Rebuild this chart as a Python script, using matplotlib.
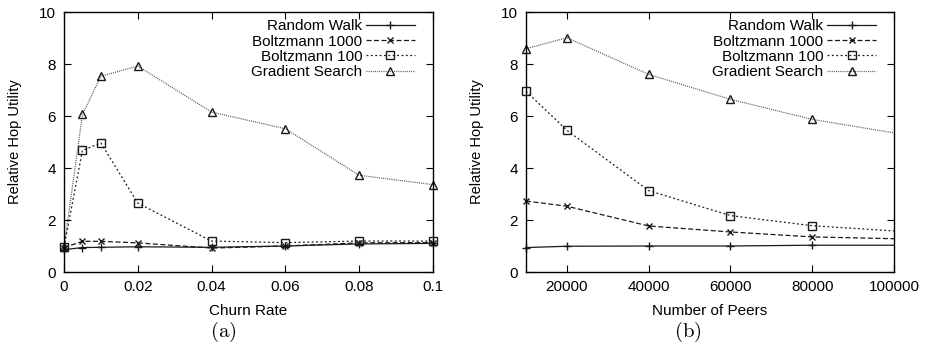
import matplotlib
matplotlib.use("Agg")
import matplotlib.pyplot as plt
from matplotlib.ticker import FormatStrFormatter, MultipleLocator

plt.rcParams['font.family'] = ['Liberation Sans', 'DejaVu Sans']

labels = ["Random Walk", "Boltzmann 1000", "Boltzmann 100", "Gradient Search"]

churn = [0, 0.005, 0.01, 0.02, 0.04, 0.06, 0.08, 0.1]
a_random = [0.86, 0.94, 0.95, 0.97, 0.95, 1.00, 1.08, 1.10]
a_boltz1000 = [0.94, 1.18, 1.18, 1.12, 0.92, 1.00, 1.12, 1.13]
a_boltz100 = [0.96, 4.68, 4.96, 2.65, 1.19, 1.13, 1.19, 1.19]
a_gradient = [0.95, 6.06, 7.53, 7.92, 6.15, 5.51, 3.72, 3.36]

peers = [10000, 20000, 40000, 60000, 80000, 100000]
b_random = [0.94, 0.99, 1.00, 1.00, 1.03, 1.03]
b_boltz1000 = [2.73, 2.53, 1.77, 1.54, 1.35, 1.28]
b_boltz100 = [6.95, 5.45, 3.13, 2.17, 1.78, 1.58]
b_gradient = [8.59, 9.01, 7.60, 6.64, 5.87, 5.35]

styles = [
    dict(color='#1a1a1a', linestyle='-', marker='+', markersize=6, lw=0.9),
    dict(color='#1a1a1a', linestyle=(0, (4, 2)), marker='x', markersize=5, lw=0.9),
    dict(color='#1a1a1a', linestyle=(0, (1.5, 2)), marker='s', markersize=5.5,
         markerfacecolor='none', lw=0.9),
    dict(color='#555555', linestyle=(0, (0.8, 0.9)), marker='^', markersize=5.5,
         markerfacecolor='none', markeredgecolor='#1a1a1a', lw=0.9),
]

fig = plt.figure(figsize=(9.29, 3.46), dpi=100)
axa = fig.add_axes([64/929, 74/346, 369/929, 260/346])
axb = fig.add_axes([526/929, 74/346, 368/929, 260/346])

def setup(ax):
    ax.set_ylim(0, 10)
    ax.yaxis.set_major_locator(MultipleLocator(2))
    ax.tick_params(direction='in', length=5, width=0.8, top=True, right=True,
                   labelsize=11, pad=6)
    for s in ax.spines.values():
        s.set_linewidth(1.0)
    ax.set_ylabel("Relative Hop Utility", fontsize=10.5, labelpad=12)

for ys, lab, st in zip([a_random, a_boltz1000, a_boltz100, a_gradient], labels, styles):
    axa.plot(churn, ys, label=lab, clip_on=False, **st)
setup(axa)
axa.set_xlim(0, 0.1)
axa.xaxis.set_major_locator(MultipleLocator(0.02))
axa.xaxis.set_major_formatter(FormatStrFormatter('%g'))
axa.set_xlabel("Churn Rate", fontsize=11, labelpad=7)

for ys, lab, st in zip([b_random, b_boltz1000, b_boltz100, b_gradient], labels, styles):
    axb.plot(peers, ys, label=lab, clip_on=False, markevery=slice(0, 5), **st)
setup(axb)
axb.set_xlim(10000, 100000)
axb.set_xticks([20000, 40000, 60000, 80000, 100000])
axb.xaxis.set_major_formatter(FormatStrFormatter('%d'))
axb.set_xlabel("Number of Peers", fontsize=11, labelpad=7)

for ax in (axa, axb):
    ax.legend(loc='upper right', bbox_to_anchor=(0.951, 0.972), frameon=False,
              markerfirst=False, fontsize=11, handlelength=3.2, labelspacing=0.08,
              handletextpad=0.25, borderaxespad=0, borderpad=0)

fig.text(223/929, 1 - 332/346, r'$(\mathrm{a})$', ha='center', va='center',
         fontsize=15, math_fontfamily='cm')
fig.text(688/929, 1 - 332/346, r'$(\mathrm{b})$', ha='center', va='center',
         fontsize=15, math_fontfamily='cm')

fig.savefig("out.png", dpi=100)
